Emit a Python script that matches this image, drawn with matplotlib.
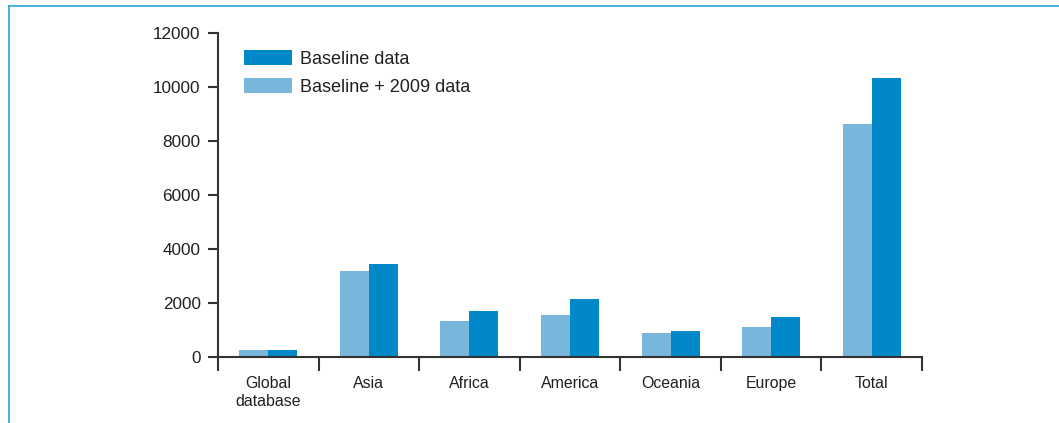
import matplotlib
matplotlib.use("Agg")
import matplotlib.pyplot as plt
import numpy as np
from matplotlib.patches import Patch
from matplotlib.lines import Line2D

categories = ["Global\ndatabase", "Asia", "Africa", "America", "Oceania", "Europe", "Total"]
baseline_2009 = [270, 3190, 1340, 1560, 890, 1110, 8630]
baseline = [270, 3440, 1700, 2150, 960, 1480, 10330]
yticks = [0, 2000, 4000, 6000, 8000, 10000, 12000]

DARK = "#0088C8"
LIGHT = "#7AB5DC"
FRAME = "#2AA3DC"
TXT = "#231F20"

plt.rcParams["font.family"] = ["Liberation Sans", "DejaVu Sans"]

W, H = 1059, 423
fig = plt.figure(figsize=(W / 100, H / 100), dpi=100)
ax = fig.add_axes([218 / W, (H - 357) / H, (922 - 218) / W, (357 - 33) / H])

x = np.arange(len(categories))
bw = 0.288
ax.bar(x - bw / 2, baseline_2009, bw, color=LIGHT, zorder=2)
ax.bar(x + bw / 2, baseline, bw, color=DARK, zorder=2)

ax.set_xlim(-0.5, len(categories) - 0.5)
ax.set_ylim(0, 12000)
ax.set_yticks(yticks)
ax.set_yticklabels([str(v) for v in yticks], fontsize=12.3, color=TXT)
ax.set_xticks(x)
ax.set_xticklabels(categories, fontsize=11.4, color=TXT, linespacing=1.25)
ax.tick_params(axis="x", which="major", length=0, pad=14)
ax.set_xticks(np.arange(-0.5, len(categories)), minor=True)
ax.tick_params(axis="x", which="minor", length=10, width=1.5, color="#333333", direction="out")
ax.tick_params(axis="y", length=7, width=1.5, color="#333333", pad=5.5)
for s in ["top", "right"]:
    ax.spines[s].set_visible(False)
for s in ["left", "bottom"]:
    ax.spines[s].set_linewidth(1.5)
    ax.spines[s].set_color("#333333")

handles = [Patch(facecolor=DARK, edgecolor="none", label="Baseline data"),
           Patch(facecolor=LIGHT, edgecolor="none", label="Baseline + 2009 data")]
leg = ax.legend(handles=handles, loc="upper left",
                bbox_to_anchor=((244 - 218) / 704, (357 - 50) / 324),
                frameon=False, fontsize=13, handlelength=2.67, handleheight=0.94,
                handletextpad=0.44, labelspacing=0.55, borderpad=0, borderaxespad=0)
for t in leg.get_texts():
    t.set_color(TXT)

# outer frame lines (top and left)
fig.add_artist(Line2D([9 / W, 1.0], [1 - 6 / H, 1 - 6 / H], transform=fig.transFigure,
                      color=FRAME, linewidth=1.2))
fig.add_artist(Line2D([9 / W, 9 / W], [0, 1 - 6 / H], transform=fig.transFigure,
                      color=FRAME, linewidth=1.2))

fig.savefig("out.png", dpi=100)
